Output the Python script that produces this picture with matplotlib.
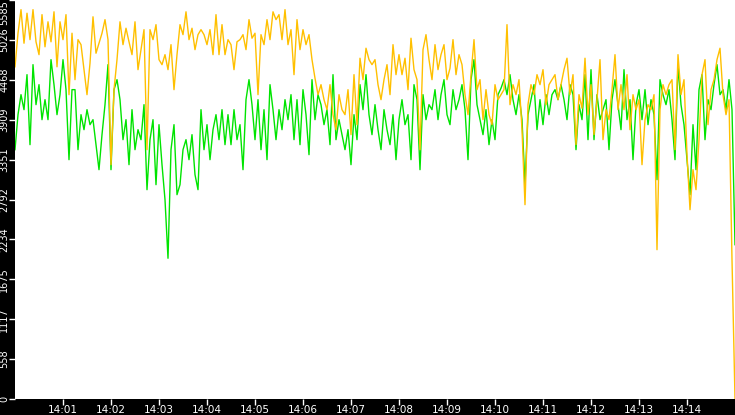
import numpy as np
import pandas as pd
import matplotlib
matplotlib.use("Agg")
import matplotlib.pyplot as plt

# ---- data ----
start_time = "2024-01-01 14:00:00"
sample_step = "3750ms"

orange_values = [
    4650,5120,5450,4980,5400,5030,5450,5000,4820,5380,4930,5280,5000,5420,4650,5280,5030,5380,4260,5120,4470,5030,4960,4610,4260,4700,5350,4840,4980,5120,
    5310,5030,3280,4330,4750,5280,4960,5190,5000,4820,5280,4610,4890,5170,3490,5170,5030,5240,4750,4680,4820,4610,4960,4330,4820,5240,5100,5420,5030,5190,
    4890,5100,5170,5100,4960,5170,4820,5380,4820,5240,4820,5030,4960,4610,5000,5030,5100,4890,5310,5050,5120,4260,5100,4960,5310,5030,5420,5310,5380,5030,
    5450,4960,5170,4540,5310,4890,5170,4960,5100,4750,4490,4260,4400,4190,4050,4400,3980,3770,4260,4050,3980,4330,3700,4540,3840,4770,4470,4910,4750,4680,
    4750,4400,4190,4470,4680,4260,4960,4540,4820,4540,4770,4330,5050,4610,4470,3490,4890,5100,4750,4470,4960,4610,4820,4960,4470,4630,5030,4540,4820,4680,
    4260,3980,4540,5030,4330,4470,3910,4330,3980,3840,4400,4190,4260,4330,5240,4120,4400,4260,4470,3770,2720,4120,4400,4260,4540,4400,4610,4120,4400,4470,
    4540,4190,4400,4610,4770,4260,4540,3560,4260,4070,4770,3980,4400,3700,4190,4750,3630,4050,3910,4330,4820,4050,4400,4050,4540,3770,4260,4050,4190,3280,
    3910,4120,4050,4260,2090,4050,4400,4260,4400,4470,3490,4820,4260,4470,3420,2650,3210,2930,3630,4540,4750,3840,4330,4470,4750,4910,4260,3980,4190,1950,0,
]

green_values = [
    3490,3980,4260,4050,4540,3560,4680,4120,4400,3910,4190,3910,4750,4400,3980,4260,4750,4330,3350,4330,4330,3490,3980,3770,4050,3840,3910,3560,3210,3700,
    4120,4680,3210,4330,4470,4190,3630,3910,3280,4050,3490,3770,3630,4120,2930,3630,3910,3000,3840,3280,2790,1970,3490,3840,2860,3000,3490,3630,3350,3700,
    3140,2930,4050,3490,3840,3350,3770,3980,3630,4050,3560,3980,3560,4050,3630,3840,3210,4190,4470,4120,3630,4190,3490,4050,3350,4400,4050,3630,4050,3770,
    4190,3910,4260,3630,4190,3560,4330,3980,3420,4470,3910,4260,4120,3840,4050,3560,4540,3630,3910,3700,3490,3770,3280,3980,3630,4400,4050,4540,3980,3700,
    4120,3770,3490,4050,3770,3560,3980,3350,3910,4190,3840,3980,3350,4400,4190,3210,4260,3910,4120,4050,4330,3910,4260,4470,3980,3840,4330,4050,4190,4400,
    4050,3350,4470,4750,4120,3910,3700,4050,3560,3910,3630,4260,4350,4470,4260,4540,4190,3980,4260,3910,3000,3980,4190,4400,3770,4190,3840,4260,3980,4260,
    4330,4190,4400,4190,3910,4400,4260,3490,4120,3910,4540,3630,4610,3630,4260,3910,4050,4190,3490,4190,4470,4120,3770,4610,3910,4190,3350,4120,4330,3910,
    4330,3840,4190,3980,3070,4470,4260,4120,4330,3910,3350,4680,4120,3840,3350,2860,3840,3210,4330,4540,3630,4190,4050,4400,4680,4260,4330,4050,4470,4050,2160,
]

y_ticks = [0, 558, 1117, 1675, 2234, 2792, 3351, 3909, 4468, 5026, 5585]
x_tick_labels = ["14:01", "14:02", "14:03", "14:04", "14:05", "14:06", "14:07",
                 "14:08", "14:09", "14:10", "14:11", "14:12", "14:13", "14:14"]

# ---- figure ----
W, H = 735, 415
fig = plt.figure(figsize=(W / 100, H / 100), dpi=100, facecolor="black")
ax = fig.add_axes([15 / W, 16 / H, 720 / W, 399 / H])
ax.set_facecolor("white")

t_orange = pd.date_range(start_time, periods=len(orange_values), freq=sample_step)
t_green = pd.date_range(start_time, periods=len(green_values), freq=sample_step)

ax.plot(t_green, green_values, color="#00e400", lw=1.0)
ax.plot(t_orange, orange_values, color="#ffc000", lw=1.0)

day = pd.Timestamp(start_time).normalize()
ax.set_xlim(pd.Timestamp(start_time), pd.Timestamp(start_time) + pd.Timedelta(minutes=15))
ax.set_ylim(0, y_ticks[-1])

xt = [day + pd.Timedelta(hours=int(s[:2]), minutes=int(s[3:])) for s in x_tick_labels]
ax.set_xticks(xt)
ax.set_xticklabels(x_tick_labels)
ax.set_yticks(y_ticks)
ylabels = ax.set_yticklabels([str(v) for v in y_ticks], rotation=90, va="center")
ylabels[-1].set_va("top")

ax.tick_params(axis="both", colors="white", labelcolor="white",
               length=4, width=1, direction="out")
ax.tick_params(axis="x", pad=0.5, labelsize=7.5)
ax.tick_params(axis="y", pad=0, labelsize=7)

for s in ax.spines.values():
    s.set_visible(False)

fig.savefig("out.png", dpi=100, facecolor="black")
